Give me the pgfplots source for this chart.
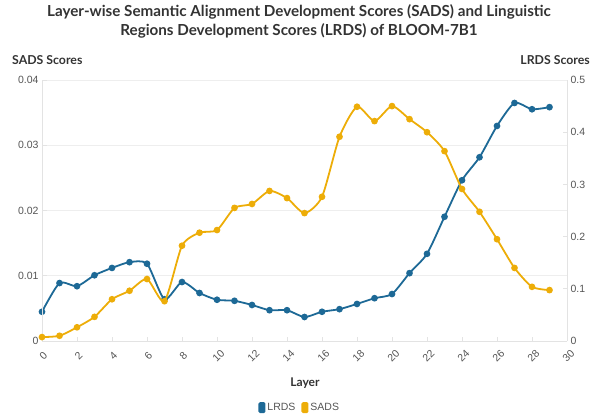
\documentclass[border=0pt]{standalone}
\usepackage{pgfplots}
\pgfplotsset{compat=1.18}
\usepackage{fontspec}
\setmainfont{Liberation Sans}
\newfontfamily\titlefont{Lato}
\definecolor{lrds}{HTML}{1D6996}
\definecolor{sads}{HTML}{EDAD08}
\definecolor{tickgray}{HTML}{555555}
\definecolor{titlegray}{HTML}{333333}
\definecolor{axgray}{HTML}{E3E3E3}
\definecolor{gridgray}{HTML}{EEEEEE}

\begin{document}
\begin{tikzpicture}
\path[use as bounding box] (-42pt,-77pt) rectangle (559pt,341pt);
\pgfplotsset{
  common/.style={
    at={(0pt,0pt)}, anchor=south west,
    scale only axis, width=525pt, height=261pt,
    xmin=0, xmax=30,
    /pgf/number format/assume math mode=true,
    tick label style={font=\fontsize{10.5}{12}\selectfont, text=tickgray},
    tick style={axgray, line width=0.8pt},
    major tick length=4.5pt,
    axis line style={axgray, line width=0.8pt},
    scaled y ticks=false,
  }
}
% LRDS on right axis
\begin{axis}[common,
  axis y line*=right, axis x line*=bottom,
  ymin=0, ymax=0.5,
  ytick={0,0.1,0.2,0.3,0.4,0.5},
  yticklabels={0,0.1,0.2,0.3,0.4,0.5},
  extra y ticks={0.125,0.25,0.375,0.5},
  extra y tick labels={},
  extra y tick style={grid=major, major tick length=0pt, major grid style={gridgray, line width=0.8pt}},
  xtick={0,2,...,30},
  xticklabel style={yshift=-15pt, xshift=1.5pt, rotate=45, anchor=center},
  legend style={at={(axis description cs:0.491,-0.257)}, anchor=center, draw=none, fill=none,
    legend columns=2, font=\fontsize{10.5}{12}\selectfont\color{tickgray},
    /tikz/every even column/.append style={column sep=4pt}},
  legend image code/.code={\fill[#1, draw=none, rounded corners=1.5pt] (0pt,-5pt) rectangle (7pt,6pt);},
]
\addplot[lrds, line width=1.8pt, smooth, tension=0.4, mark=*, mark size=2.4pt, mark options={solid, fill=lrds, draw=lrds}]
  table[row sep=\\] {
x y\\
0 0.056\\
1 0.111\\
2 0.105\\
3 0.126\\
4 0.140\\
5 0.151\\
6 0.148\\
7 0.080\\
8 0.113\\
9 0.092\\
10 0.079\\
11 0.077\\
12 0.069\\
13 0.059\\
14 0.059\\
15 0.046\\
16 0.056\\
17 0.061\\
18 0.071\\
19 0.082\\
20 0.090\\
21 0.130\\
22 0.167\\
23 0.238\\
24 0.308\\
25 0.352\\
26 0.412\\
27 0.456\\
28 0.444\\
29 0.448\\
};
\addlegendentry{LRDS}
\addlegendimage{sads}
\addlegendentry{SADS}
\end{axis}
% SADS on left axis
\begin{axis}[common,
  axis y line*=left, axis x line=none,
  xtick=\empty,
  ymin=0, ymax=0.04,
  ytick={0,0.01,0.02,0.03,0.04},
  yticklabels={0,0.01,0.02,0.03,0.04},
]
\addplot[sads, line width=1.8pt, smooth, tension=0.4, mark=*, mark size=2.4pt, mark options={solid, fill=sads, draw=sads}]
  table[row sep=\\] {
x y\\
0 0.0006\\
1 0.0008\\
2 0.0021\\
3 0.0037\\
4 0.0064\\
5 0.0077\\
6 0.0095\\
7 0.0061\\
8 0.0146\\
9 0.0166\\
10 0.0170\\
11 0.0204\\
12 0.0210\\
13 0.0230\\
14 0.0219\\
15 0.0196\\
16 0.0221\\
17 0.0313\\
18 0.0359\\
19 0.0337\\
20 0.0360\\
21 0.0340\\
22 0.0320\\
23 0.0291\\
24 0.0233\\
25 0.0198\\
26 0.0156\\
27 0.0112\\
28 0.0083\\
29 0.0078\\
};
\end{axis}
\node[font=\titlefont\bfseries\fontsize{15.2}{18}\selectfont, text=titlegray] at (257pt,329pt) {Layer-wise Semantic Alignment Development Scores (SADS) and Linguistic};
\node[font=\titlefont\bfseries\fontsize{15.2}{18}\selectfont, text=titlegray] at (257pt,310pt) {Regions Development Scores (LRDS) of BLOOM-7B1};
\node[font=\titlefont\bfseries\fontsize{12.3}{14}\selectfont, text=titlegray, anchor=west, inner sep=0pt] at (-30pt,281pt) {SADS Scores};
\node[font=\titlefont\bfseries\fontsize{12.3}{14}\selectfont, text=titlegray, anchor=east, inner sep=0pt] at (548pt,281pt) {LRDS Scores};
\node[font=\titlefont\bfseries\fontsize{12}{14}\selectfont, text=titlegray] at (263pt,-42pt) {Layer};
\end{tikzpicture}
\end{document}
